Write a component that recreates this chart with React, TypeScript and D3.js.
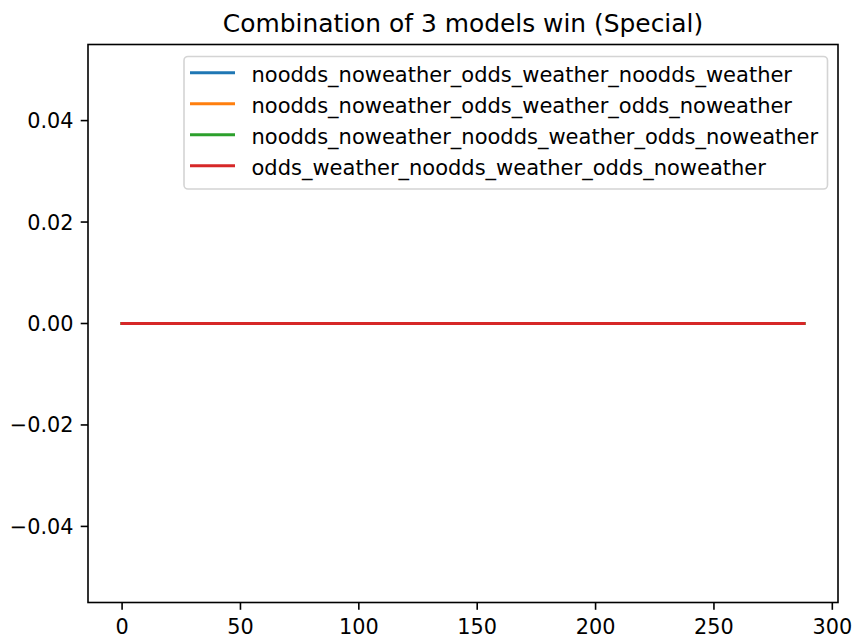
import React from "react";
import * as d3 from "d3";

const title = "Combination of 3 models win (Special)";
const seriesNames = [
  "noodds_noweather_odds_weather_noodds_weather",
  "noodds_noweather_odds_weather_odds_noweather",
  "noodds_noweather_noodds_weather_odds_noweather",
  "odds_weather_noodds_weather_odds_noweather",
];
const seriesColors = ["#1f77b4", "#ff7f0e", "#2ca02c", "#d62728"];
const pointCount = 289;
// every series stays at 0 wins for all 289 steps
const series1 = new Array(pointCount).fill(0);
const series2 = new Array(pointCount).fill(0);
const series3 = new Array(pointCount).fill(0);
const series4 = new Array(pointCount).fill(0);
const allSeries = [series1, series2, series3, series4];
const xTicks = [0, 50, 100, 150, 200, 250, 300];
const yTicks = [-0.04, -0.02, 0, 0.02, 0.04];

const W = 852;
const H = 641;
const left = 88;
const right = 838;
const top = 44.5;
const bottom = 602.5;
const FONT = "'DejaVu Sans', sans-serif";
const TICK_FS = 20.8;
const TITLE_FS = 24.9;
const LEG_FS = 21.0;

export default function App() {
  const xMax = pointCount - 1;
  const xPad = xMax * 0.05;
  const x = d3.scaleLinear().domain([-xPad, xMax + xPad]).range([left, right]);
  const y = d3.scaleLinear().domain([-0.055, 0.055]).range([bottom, top]);
  const line = d3
    .line<number>()
    .x((_, i) => x(i))
    .y((d) => y(d));

  const legX = 184;
  const legY = 56.5;
  const legW = 643.5;
  const legH = 132.5;
  const rowGap = 31;

  return (
    <svg
      width={W}
      height={H}
      style={{ position: "absolute", left: 0, top: 0, background: "#fff" }}
      fontFamily={FONT}
    >
      <rect width={W} height={H} fill="#fff" />
      <text x={(left + right) / 2} y={31.5} textAnchor="middle" fontSize={TITLE_FS} fill="#000">
        {title}
      </text>
      {allSeries.map((s, i) => (
        <path key={i} d={line(s) || ""} fill="none" stroke={seriesColors[i]} strokeWidth={3} strokeLinecap="square" />
      ))}
      <rect x={left} y={top} width={right - left} height={bottom - top} fill="none" stroke="#000" strokeWidth={1.6} />
      {xTicks.map((t) => (
        <g key={t}>
          <line x1={x(t)} x2={x(t)} y1={bottom} y2={bottom + 7.3} stroke="#000" strokeWidth={1.6} />
          <text x={x(t)} y={634} textAnchor="middle" fontSize={TICK_FS} fill="#000">
            {t}
          </text>
        </g>
      ))}
      {yTicks.map((t) => {
        const label = t === 0 ? "0.00" : (t < 0 ? "\u2212" : "") + Math.abs(t).toFixed(2);
        return (
          <g key={t}>
            <line x1={left - 7.3} x2={left} y1={y(t)} y2={y(t)} stroke="#000" strokeWidth={1.6} />
            <text x={73.5} y={y(t) + 7.5} textAnchor="end" fontSize={TICK_FS} fill="#000">
              {label}
            </text>
          </g>
        );
      })}
      <rect x={legX} y={legY} width={legW} height={legH} rx={4} fill="#fff" fillOpacity={0.8} stroke="#d4d4d4" strokeWidth={1.6} />
      {seriesNames.map((n, i) => {
        const cy = 72.7 + i * rowGap;
        return (
          <g key={n}>
            <line x1={190} x2={235} y1={cy} y2={cy} stroke={seriesColors[i]} strokeWidth={3} />
            <text x={251.5} y={cy + 8.8} fontSize={LEG_FS} fill="#000">
              {n}
            </text>
          </g>
        );
      })}
    </svg>
  );
}
